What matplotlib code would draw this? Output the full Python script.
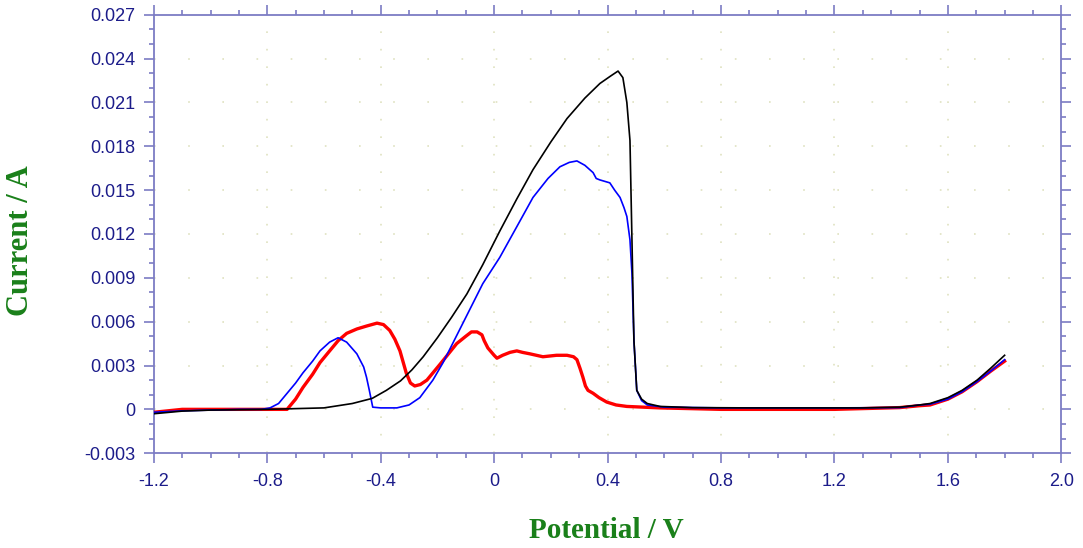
import numpy as np
import matplotlib.pyplot as plt
from matplotlib.ticker import MultipleLocator, FuncFormatter

# Voltamogramas (Potencial / V, Corriente / A)
v_negro = [-1.2, -1.1, -1.0, -0.8, -0.6, -0.5, -0.43, -0.38, -0.33, -0.29, -0.25, -0.2,
           -0.15, -0.096, -0.04, 0.02, 0.08, 0.137, 0.2, 0.257, 0.32, 0.373,
           0.41, 0.437, 0.454, 0.468, 0.479, 0.486, 0.493, 0.503, 0.52, 0.54, 0.585,
           0.7, 0.9, 1.1, 1.3, 1.43, 1.5, 1.537, 1.6, 1.65, 1.703, 1.75, 1.8]
i_negro = [-0.0003, -0.00012, -0.00005, 0.0, 0.0001, 0.0004, 0.00075, 0.0013, 0.00195,
           0.0027, 0.0036, 0.0049, 0.0063, 0.0079, 0.0099, 0.0122, 0.0144,
           0.0164, 0.0183, 0.0199, 0.0213, 0.0223, 0.0228, 0.02315, 0.0227, 0.0210,
           0.0184, 0.0116, 0.0047, 0.0013, 0.0007, 0.0004, 0.0002, 0.00012, 0.0001,
           0.0001, 0.0001, 0.00015, 0.0003, 0.0004, 0.0008, 0.0013, 0.002, 0.0028, 0.0037]

v_azul = [-1.2, -1.1, -1.0, -0.9, -0.82, -0.79, -0.76, -0.73, -0.7, -0.674, -0.64, -0.614,
          -0.58, -0.55, -0.52, -0.484, -0.46, -0.45, -0.44, -0.428, -0.4, -0.343, -0.3,
          -0.262, -0.216, -0.18, -0.11, -0.04, 0.02, 0.08, 0.137, 0.19, 0.232, 0.265,
          0.292, 0.32, 0.349, 0.36, 0.373, 0.408, 0.425, 0.444, 0.458, 0.468, 0.479,
          0.486, 0.493, 0.503, 0.52, 0.54, 0.6, 0.8, 1.0, 1.2, 1.43, 1.5, 1.537, 1.6,
          1.65, 1.703, 1.75, 1.8]
i_azul = [-0.0002, -0.0001, -0.00005, 0.0, 0.0, 0.0001, 0.0004, 0.0011, 0.0018, 0.0025,
          0.0033, 0.004, 0.0046, 0.0049, 0.0046, 0.0038, 0.0029, 0.0022, 0.0013,
          0.00015, 0.0001, 0.0001, 0.0003, 0.0008, 0.002, 0.0032, 0.0059, 0.0086,
          0.0104, 0.0125, 0.0145, 0.0158, 0.0166, 0.0169, 0.0170, 0.0167, 0.0162,
          0.0158, 0.0157, 0.0155, 0.0150, 0.0145, 0.0138, 0.0132, 0.0116, 0.0093,
          0.0047, 0.0013, 0.0006, 0.0003, 0.00015, 0.0001, 0.0001, 0.0001, 0.00012,
          0.0003, 0.00035, 0.0007, 0.0012, 0.0019, 0.0026, 0.0034]

v_rojo = [-1.2, -1.15, -1.1, -1.0, -0.9, -0.8, -0.73, -0.7, -0.674, -0.64, -0.614, -0.58,
          -0.55, -0.52, -0.484, -0.45, -0.413, -0.39, -0.368, -0.35, -0.332, -0.31,
          -0.295, -0.28, -0.26, -0.237, -0.19, -0.132, -0.1, -0.08, -0.06, -0.043,
          -0.035, -0.022, 0.0, 0.01, 0.03, 0.056, 0.08, 0.1, 0.126, 0.172, 0.22, 0.257,
          0.28, 0.292, 0.303, 0.313, 0.322, 0.331, 0.349, 0.37, 0.397, 0.43, 0.468,
          0.585, 0.8, 1.0, 1.2, 1.43, 1.5, 1.537, 1.6, 1.65, 1.703, 1.75, 1.8]
i_rojo = [-0.0002, -0.0001, 0.0, 0.0, 0.0, 0.0, 0.0, 0.0007, 0.0015, 0.0024, 0.0032,
          0.0040, 0.0047, 0.0052, 0.0055, 0.0057, 0.0059, 0.0058, 0.0054, 0.0048,
          0.0040, 0.0025, 0.0018, 0.0016, 0.0017, 0.0020, 0.0031, 0.0045, 0.0050,
          0.0053, 0.0053, 0.0051, 0.0047, 0.0042, 0.0037, 0.0035, 0.0037, 0.0039,
          0.0040, 0.0039, 0.0038, 0.0036, 0.0037, 0.0037, 0.0036, 0.0034, 0.0028,
          0.0022, 0.0016, 0.0013, 0.0011, 0.0008, 0.0005, 0.0003, 0.0002, 0.0001,
          0.0, 0.0, 0.0, 0.00012, 0.00025, 0.0003, 0.0007, 0.0012, 0.0019, 0.0026, 0.0033]

azul_txt = "#1c1c8a"
marco = "#7c7cc4"
verde = "#1a801a"

fig = plt.figure(figsize=(10.83, 5.48), dpi=100)
ax = fig.add_axes([0.142, 0.173, 0.838, 0.8])

# rejilla punteada muy suave
for xv in np.arange(-0.8, 1.7, 0.4):
    ax.axvline(xv, color="#dfe2c0", lw=1.2, linestyle=(0, (1, 9.5)), zorder=0)
for yv in np.arange(0.0, 0.0261, 0.003):
    ax.axhline(yv, color="#dfe2c0", lw=1.2, linestyle=(0, (1, 19.5)), zorder=0)

ax.plot(v_rojo, i_rojo, color="#ff0000", lw=2.4, zorder=3)
ax.plot(v_azul, i_azul, color="#0000ff", lw=1.2, zorder=4)
ax.plot(v_negro, i_negro, color="black", lw=1.2, zorder=5)

ax.set_xlim(-1.2, 2.0)
ax.set_ylim(-0.003, 0.027)
ax.xaxis.set_major_locator(MultipleLocator(0.4))
ax.xaxis.set_minor_locator(MultipleLocator(0.1))
ax.yaxis.set_major_locator(MultipleLocator(0.003))
ax.yaxis.set_minor_locator(MultipleLocator(0.001))


def fmt_x(v, pos):
    return "0" if abs(v) < 1e-9 else f"{v:.1f}"


def fmt_y(v, pos):
    return "0" if abs(v) < 1e-9 else f"{v:.3f}"


ax.xaxis.set_major_formatter(FuncFormatter(fmt_x))
ax.yaxis.set_major_formatter(FuncFormatter(fmt_y))

for s in ax.spines.values():
    s.set_color(marco)
    s.set_linewidth(1.3)
ax.tick_params(which="both", direction="out", color=marco, width=1.2,
               top=True, right=True, labeltop=False, labelright=False)
ax.tick_params(which="major", length=7, labelsize=13, labelcolor=azul_txt)
ax.tick_params(which="minor", length=3.8)
ax.tick_params(axis="y", which="major", pad=6)
ax.tick_params(axis="x", which="major", pad=7)
for lab in ax.get_xticklabels() + ax.get_yticklabels():
    lab.set_family("Liberation Sans")

ax.set_xlabel("Potential / V", fontsize=21, fontweight="bold", color=verde,
              family="Liberation Serif")
ax.set_ylabel("Current / A", fontsize=22, fontweight="bold", color=verde,
              family="Liberation Serif")
ax.xaxis.set_label_coords(0.499, -0.145)
ax.yaxis.set_label_coords(-0.131, 0.486)

plt.savefig("out.png", dpi=100)
